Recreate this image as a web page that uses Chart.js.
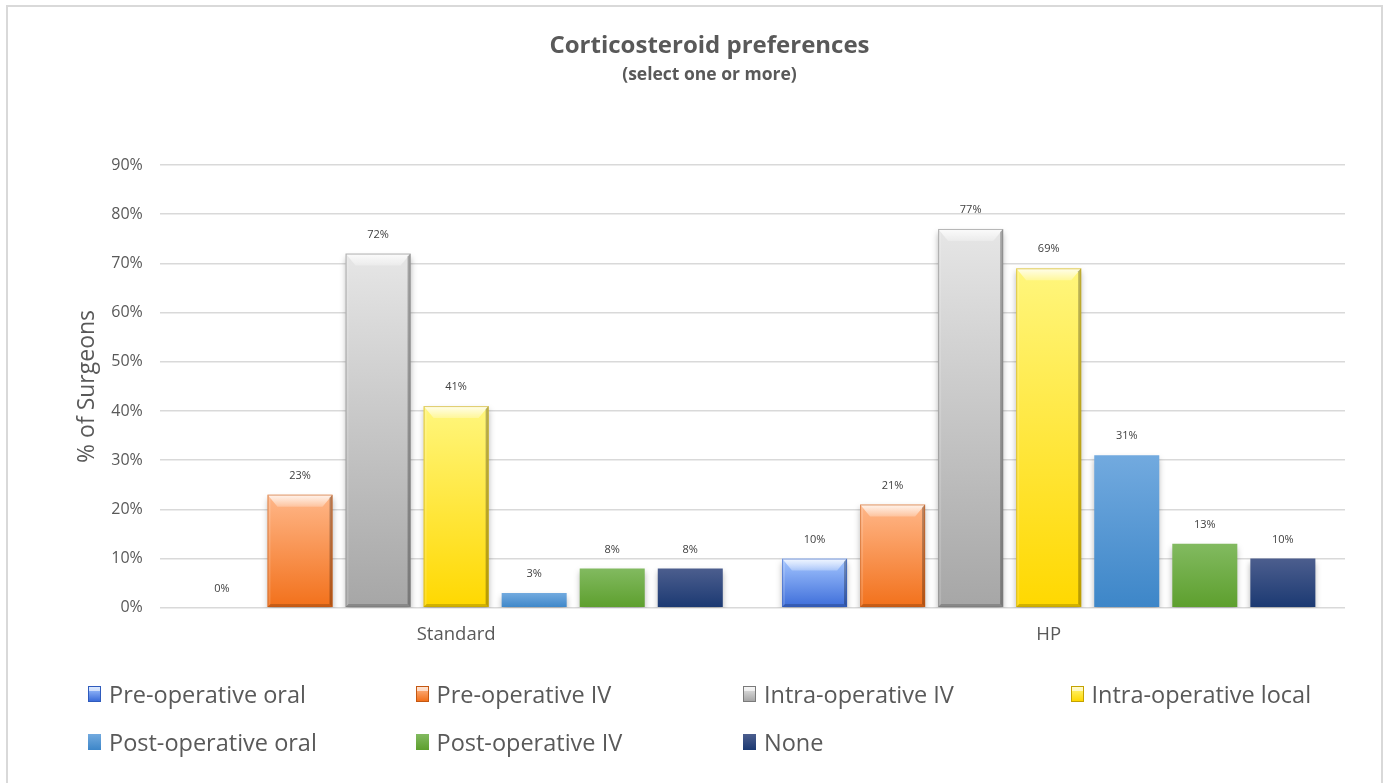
<!DOCTYPE html>
<html>
<head>
<meta charset="utf-8">
<title>Corticosteroid preferences</title>
<script src="https://cdn.jsdelivr.net/npm/chart.js@4.4.1/dist/chart.umd.min.js"></script>
<style>
  html, body { margin: 0; padding: 0; background: #fff; width: 1386px; height: 783px; overflow: hidden; font-family: "Open Sans", sans-serif; }
  #frame { position: absolute; left: 6px; top: 5px; width: 1377px; height: 800px; border: 2px solid #d9d9d9; box-sizing: border-box; }
  #wrap { position: absolute; left: 0; top: 0; width: 1386px; height: 783px; }
  #legend { position: absolute; left: 88px; top: 680px; display: grid; grid-template-columns: repeat(4, 327.5px); row-gap: 20px; }
  .item { display: flex; align-items: center; height: 28px; color: #595959; font-size: 23.5px; white-space: nowrap; }
  .sw { width: 13px; height: 16px; margin-right: 8px; box-sizing: border-box; flex: none; }
</style>
</head>
<body>
<div id="frame"></div>
<div id="wrap"><canvas id="chart" width="1386" height="783"></canvas></div>
<div id="legend"></div>
<script>
// Survey groups and the share of surgeons choosing each corticosteroid timing
const categories = ['Standard', 'HP'];
const seriesNames = ['Pre-operative oral', 'Pre-operative IV', 'Intra-operative IV', 'Intra-operative local',
                     'Post-operative oral', 'Post-operative IV', 'None'];
const preOpOral = [0, 10];
const preOpIV = [23, 21];
const intraOpIV = [72, 77];
const intraOpLocal = [41, 69];
const postOpOral = [3, 31];
const postOpIV = [8, 13];
const noneChosen = [8, 10];
const yTickValues = [0, 10, 20, 30, 40, 50, 60, 70, 80, 90];

// Fill styles: gradient top/bottom, and whether the bar gets a bevelled face
const styles = [
  { top: '#a4c6ff', bottom: '#3c6cd9', edge: '#2f5bbd', bevel: true },
  { top: '#ffb789', bottom: '#f2701a', edge: '#c45812', bevel: true },
  { top: '#e6e6e6', bottom: '#a6a6a6', edge: '#7a7a7a', bevel: true },
  { top: '#fff67d', bottom: '#ffd800', edge: '#c4a200', bevel: true },
  { top: '#72aadf', bottom: '#3d86c8', edge: null, bevel: false },
  { top: '#82ba60', bottom: '#5d9f2d', edge: null, bevel: false },
  { top: '#4c5e8e', bottom: '#1b3972', edge: null, bevel: false }
];
const seriesValues = [preOpOral, preOpIV, intraOpIV, intraOpLocal, postOpOral, postOpIV, noneChosen];

const FONT = '"Open Sans", sans-serif';
const TEXT = '#595959';

function gradientFill(idx) {
  return function (ctx) {
    const st = styles[idx];
    const chart = ctx.chart;
    if (!chart.chartArea || ctx.raw === undefined) return st.bottom;
    const y = chart.scales.y;
    const t = y.getPixelForValue(ctx.raw);
    const b = y.getPixelForValue(0);
    if (b - t < 1) return st.bottom;
    const g = chart.ctx.createLinearGradient(0, t, 0, b);
    g.addColorStop(0, st.top);
    g.addColorStop(1, st.bottom);
    return g;
  };
}

const datasets = seriesNames.map((name, i) => ({
  label: name,
  data: seriesValues[i],
  backgroundColor: gradientFill(i),
  borderWidth: 0,
  categoryPercentage: 0.922,
  barPercentage: 0.833
}));

// Soft drop shadow under the bars
const shadowPlugin = {
  id: 'barShadow',
  beforeDatasetsDraw(chart) {
    const c = chart.ctx;
    c.save();
    c.shadowColor = 'rgba(0,0,0,0.28)';
    c.shadowBlur = 6;
    c.shadowOffsetY = 4;
  },
  afterDatasetsDraw(chart) {
    chart.ctx.restore();
  }
};

// Bevelled faces on the first four series, then value labels above every bar
const facePlugin = {
  id: 'barFaces',
  afterDatasetsDraw(chart) {
    const c = chart.ctx;
    chart.data.datasets.forEach((ds, i) => {
      const meta = chart.getDatasetMeta(i);
      const st = styles[i];
      meta.data.forEach((bar, j) => {
        const l = bar.x - bar.width / 2, r = bar.x + bar.width / 2;
        const t = bar.y, b = bar.base;
        const h = b - t;
        if (st.bevel && h > 2) {
          const d = Math.min(12, h / 2), k = 10, s = 3;
          c.save();
          // top bevel: light band with mitred corners
          const g = c.createLinearGradient(0, t, 0, t + d);
          g.addColorStop(0, 'rgba(255,255,255,0.85)');
          g.addColorStop(1, 'rgba(255,255,255,0.25)');
          c.beginPath();
          c.moveTo(l, t); c.lineTo(r, t); c.lineTo(r - k, t + d); c.lineTo(l + k, t + d); c.closePath();
          c.fillStyle = g;
          c.fill();
          // left edge
          c.beginPath();
          c.moveTo(l, t); c.lineTo(l + s, t + s); c.lineTo(l + s, b - s); c.lineTo(l, b); c.closePath();
          c.fillStyle = 'rgba(255,255,255,0.15)';
          c.fill();
          // right edge
          c.beginPath();
          c.moveTo(r, t); c.lineTo(r, b); c.lineTo(r - s, b - s); c.lineTo(r - s, t + s); c.closePath();
          c.fillStyle = 'rgba(0,0,0,0.28)';
          c.fill();
          // bottom edge
          c.beginPath();
          c.moveTo(l, b); c.lineTo(r, b); c.lineTo(r - s, b - s); c.lineTo(l + s, b - s); c.closePath();
          c.fillStyle = 'rgba(0,0,0,0.18)';
          c.fill();
          c.strokeStyle = st.edge;
          c.globalAlpha = 0.55;
          c.lineWidth = 1;
          c.strokeRect(l + 0.5, t + 0.5, r - l - 1, h - 1);
          c.restore();
        }
        const v = ds.data[j];
        c.save();
        c.font = '11px ' + FONT;
        c.fillStyle = '#404040';
        c.textAlign = 'center';
        c.textBaseline = 'middle';
        c.fillText(v + '%', bar.x, t - 19);
        c.restore();
      });
    });
  }
};

const chart = new Chart(document.getElementById('chart'), {
  type: 'bar',
  data: { labels: categories, datasets },
  plugins: [shadowPlugin, facePlugin],
  options: {
    responsive: false,
    animation: false,
    devicePixelRatio: 1,
    layout: { padding: { top: 32, left: 74, right: 41, bottom: 121 } },
    plugins: {
      legend: { display: false },
      tooltip: { enabled: false },
      title: {
        display: true,
        text: 'Corticosteroid preferences',
        color: TEXT,
        font: { family: FONT, size: 24, weight: 'bold' },
        padding: { top: 0, bottom: 3.7 }
      },
      subtitle: {
        display: true,
        text: '(select one or more)',
        color: TEXT,
        font: { family: FONT, size: 17.5, weight: 'bold' },
        padding: { top: 0, bottom: 79.5 }
      }
    },
    scales: {
      x: {
        grid: { display: false, drawTicks: false },
        border: { display: false },
        ticks: { color: TEXT, font: { family: FONT, size: 18.5 }, padding: 16 }
      },
      y: {
        min: yTickValues[0],
        max: yTickValues[yTickValues.length - 1],
        afterBuildTicks(scale) { scale.ticks = yTickValues.map(v => ({ value: v })); },
        grid: { color: '#d9d9d9', lineWidth: 1.5, drawTicks: false },
        border: { display: false },
        ticks: { color: TEXT, font: { family: FONT, size: 16 }, padding: 17, callback: v => v + '%' },
        title: {
          display: true,
          text: '% of Surgeons',
          color: TEXT,
          font: { family: FONT, size: 23 },
          padding: { top: 0, bottom: -7.3 }
        }
      }
    }
  }
});

// Legend laid out in four fixed columns, built from the chart's datasets
const legend = document.getElementById('legend');
chart.data.datasets.forEach((ds, i) => {
  const st = styles[i];
  const item = document.createElement('div');
  item.className = 'item';
  const sw = document.createElement('span');
  sw.className = 'sw';
  sw.style.background = st.bevel
    ? `linear-gradient(to bottom, rgba(255,255,255,0.6) 0, rgba(255,255,255,0.6) 4px, transparent 4px), linear-gradient(to bottom, ${st.top}, ${st.bottom})`
    : `linear-gradient(to bottom, ${st.top}, ${st.bottom})`;
  if (st.bevel) sw.style.border = '1px solid ' + st.edge;
  const tx = document.createElement('span');
  tx.textContent = ds.label;
  item.appendChild(sw);
  item.appendChild(tx);
  legend.appendChild(item);
});
</script>
</body>
</html>
